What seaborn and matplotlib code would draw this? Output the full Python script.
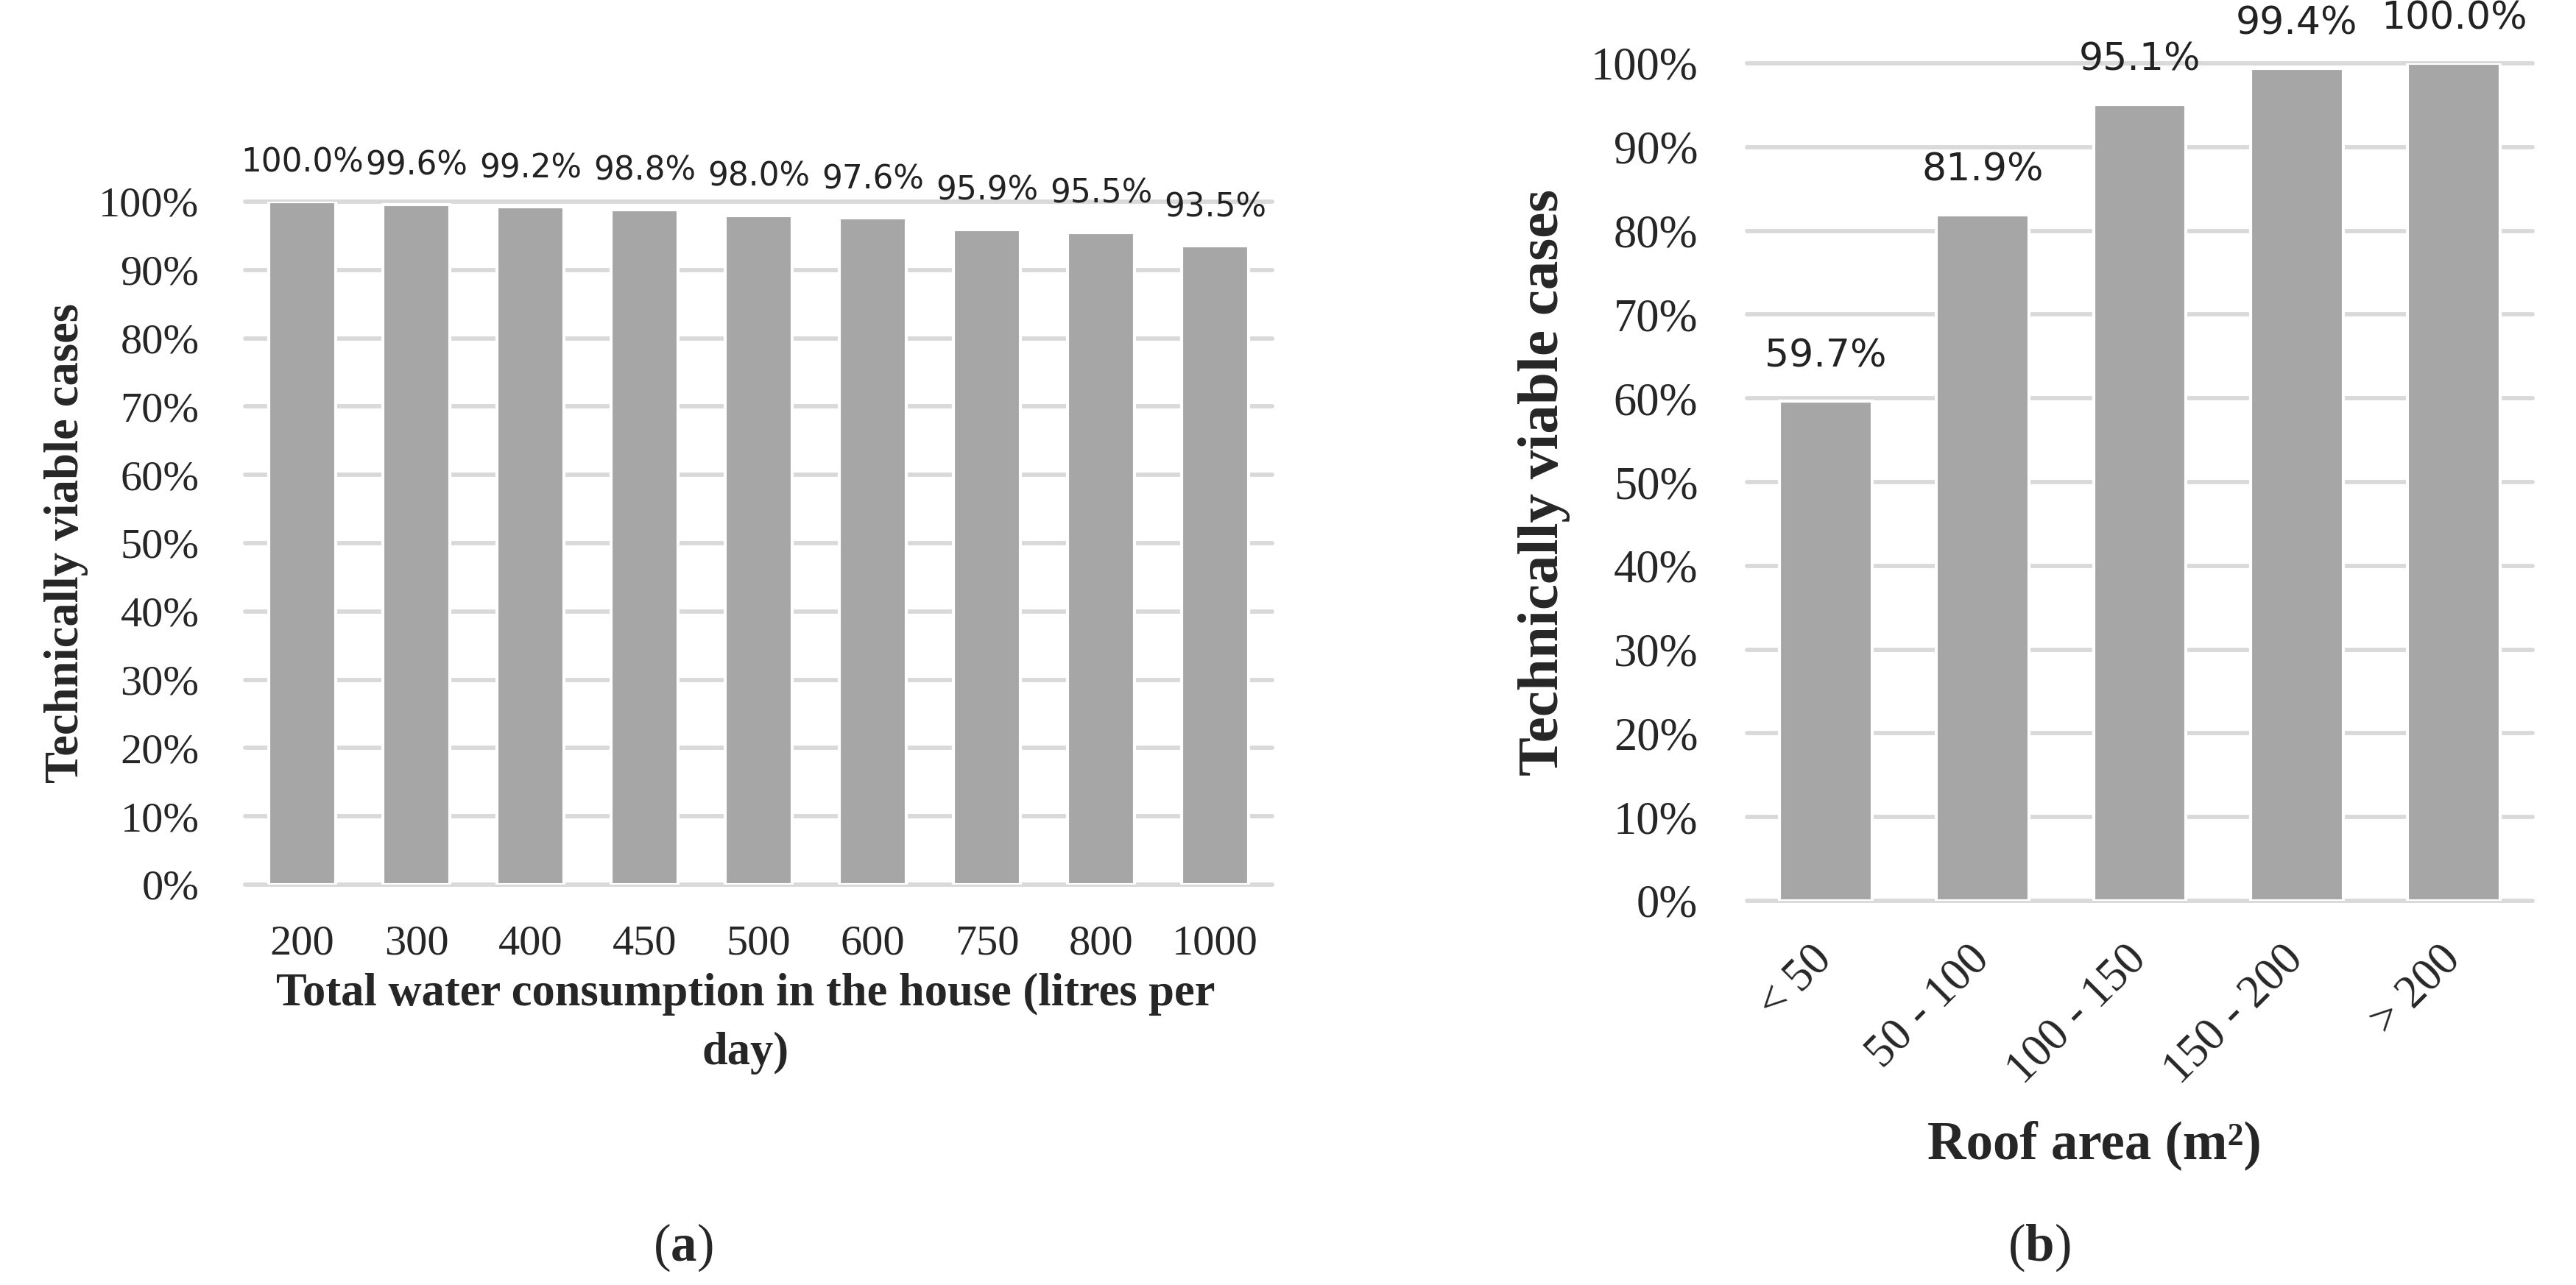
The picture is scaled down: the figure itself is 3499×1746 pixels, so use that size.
import matplotlib
matplotlib.use("Agg")
import matplotlib.pyplot as plt
import seaborn as sns
import pandas as pd

sns.set_style("white")
plt.rcParams['font.family'] = ['Liberation Serif', 'DejaVu Serif']
plt.rcParams['mathtext.fontset'] = 'custom'
plt.rcParams['mathtext.rm'] = 'Liberation Serif'
plt.rcParams['mathtext.bf'] = 'Liberation Serif:bold'

# data
consumption = ['200', '300', '400', '450', '500', '600', '750', '800', '1000']
viable_a = [100.0, 99.6, 99.2, 98.8, 98.0, 97.6, 95.9, 95.5, 93.5]

roof_area = ['< 50', '50 - 100', '100 - 150', '150 - 200', '> 200']
viable_b = [59.7, 81.9, 95.1, 99.4, 100.0]

y_ticks = list(range(0, 101, 10))

bar_color = '#A6A6A6'
grid_color = '#D9D9D9'

W, H = 3499, 1746
fig = plt.figure(figsize=(W / 300, H / 300), dpi=300)


def px_axes(left, top, right, bottom):
    return fig.add_axes([left / W, 1 - bottom / H, (right - left) / W, (bottom - top) / H])


ax1 = px_axes(333, 274, 1728, 1202)
ax2 = px_axes(2373, 86, 3440, 1224)


def style(ax, df, xcol, lab_size, tick_size, pad_lab):
    sns.barplot(data=df, x=xcol, y='viable', color=bar_color, width=0.59,
                saturation=1, ax=ax, zorder=3)
    ax.set_ylim(0, 100)
    ax.set_yticks(y_ticks)
    ax.set_yticklabels([f"{t}%" for t in y_ticks])
    for t in y_ticks:
        ax.axhline(t, color=grid_color, lw=1.4, zorder=1, clip_on=False)
    for s in ax.spines.values():
        s.set_visible(False)
    ax.tick_params(length=0, labelsize=tick_size)
    ax.bar_label(ax.containers[0], labels=[f"{v:.1f}%" for v in df['viable']],
                 padding=pad_lab, fontsize=lab_size, family='DejaVu Sans',
                 color='#222222')


df_a = pd.DataFrame({'consumption': consumption, 'viable': viable_a})
df_b = pd.DataFrame({'roof': roof_area, 'viable': viable_b})

style(ax1, df_a, 'consumption', 10.5, 14, 7.5)
ax1.tick_params(axis='y', pad=15)
ax1.tick_params(axis='x', pad=13)
ax1.set_xlabel('Total water consumption in the house (litres per\nday)',
               fontsize=15, fontweight='bold', linespacing=1.5)
ax1.xaxis.set_label_coords(0.487, -0.129)
ax1.set_ylabel('Technically viable cases', fontsize=15.5, fontweight='bold')
ax1.yaxis.set_label_coords(-0.153, 0.5)

style(ax2, df_b, 'roof', 12.5, 15, 8.5)
ax2.tick_params(axis='y', pad=16)
ax2.tick_params(axis='x', pad=17)
for lbl in ax2.get_xticklabels():
    lbl.set_rotation(45)
    lbl.set_ha('right')
    lbl.set_va('center')
    lbl.set_rotation_mode('anchor')
ax2.set_xlabel('Roof area (m²)', fontsize=17.5, fontweight='bold')
ax2.xaxis.set_label_coords(0.442, -0.262)
ax2.set_ylabel('Technically viable cases', fontsize=19, fontweight='bold')
ax2.yaxis.set_label_coords(-0.225, 0.5)

# panel captions: plain parentheses, bold letter
for x, letter in [(928, 'a'), (2770, 'b')]:
    fig.text(x / W, 1 - 1695 / H, r'(' + r'$\mathbf{' + letter + r'}$' + ')',
             fontsize=17, ha='center', va='center')

fig.savefig('out.png', dpi=300, facecolor='white')
